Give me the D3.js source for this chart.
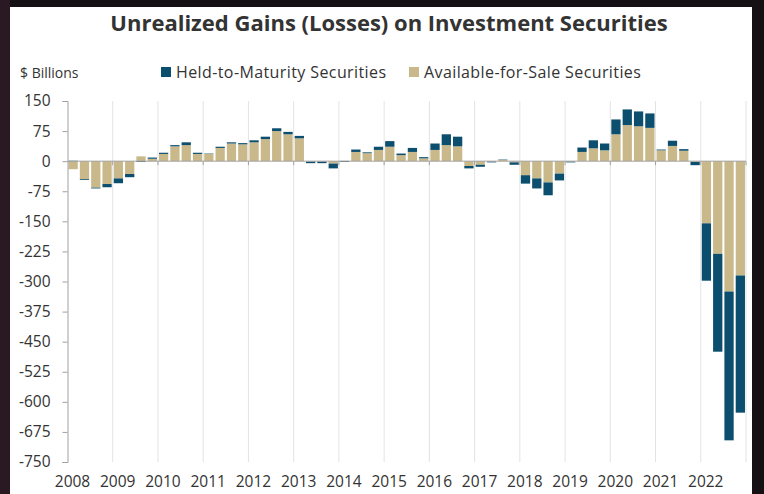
<!DOCTYPE html>
<html>
<head>
<meta charset="utf-8">
<script src="https://cdn.jsdelivr.net/npm/d3@7"></script>
<style>
  html, body { margin: 0; padding: 0; background: #141014; }
  svg { display: block; }
  text { font-family: "Open Sans", Lato, sans-serif; fill: #333; }
</style>
</head>
<body>
<svg id="chart" width="764" height="494"></svg>
<script>
// quarterly unrealized gains (losses), $ billions, 2008Q1..2022Q4
const years = d3.range(2008, 2023);
const quarters = years.flatMap(y => [1, 2, 3, 4].map(q => y + 'Q' + q));

const afsValues = [
  -20, -45, -66, -57,
  -43, -32, 12, 6,
  18, 37, 40, 18,
  18, 33, 44, 42,
  47, 55, 75, 67,
  57, -1, -1, -6,
  1, 23, 20, 28,
  36, 15, 23, 7,
  28, 40, 37, -12,
  -9, -1, 3, -3,
  -35, -43, -53, -31,
  -1, 23, 32, 27,
  67, 90, 87, 83,
  27, 38, 26, -2,
  -155, -231, -325, -285
];
const htmValues = [
  1, -2, -2, -8,
  -12, -8, -2, 3,
  3, 3, 7, 3,
  1, 3, 3, 3,
  5, 6, 7, 6,
  6, -4, -4, -12,
  -2, 6, 2, 8,
  14, 4, 10, 3,
  16, 27, 24, -6,
  -5, -2, 1, -6,
  -21, -25, -32, -17,
  -2, 11, 20, 17,
  37, 39, 37, 36,
  2, 13, 4, -8,
  -143, -244, -371, -342
];
const yTicks = [150, 75, 0, -75, -150, -225, -300, -375, -450, -525, -600, -675, -750];
const seriesNames = ['Held-to-Maturity Securities', 'Available-for-Sale Securities'];
const colors = { htm: '#0c4e6e', afs: '#c9b98a' };

(function(){
  const svg = d3.select('#chart');
  const W = 764, H = 494;

  // frame + white panel
  svg.append('rect').attr('width', W).attr('height', H).attr('fill', '#141014');
  svg.append('rect').attr('x', 0).attr('y', 0).attr('width', 10).attr('height', H).attr('fill', '#2a1822');
  svg.append('rect').attr('x', 10).attr('y', 7).attr('width', 742).attr('height', H - 7).attr('fill', '#fff');

  const left = 67.5, right = 746, top = 101, bottom = 462;

  const y = d3.scaleLinear().domain([-750, 150]).range([bottom, top]);
  const x = d3.scaleBand().domain(quarters).range([left, right]).paddingInner(0.18).paddingOuter(0.09);
  const xYear = d3.scaleLinear().domain([2008, 2023]).range([left, right]);

  // vertical gridlines at year boundaries
  svg.append('g').selectAll('line').data(d3.range(2009, 2024)).join('line')
    .attr('x1', d => xYear(d)).attr('x2', d => xYear(d))
    .attr('y1', top).attr('y2', bottom)
    .attr('stroke', '#e3e3e3').attr('stroke-width', 1);

  // stacked bars
  const table = quarters.map((q, i) => ({ q, afs: afsValues[i], htm: htmValues[i] }));
  const stack = d3.stack().keys(['afs', 'htm']).offset(d3.stackOffsetDiverging);
  const layers = stack(table);

  svg.append('g').selectAll('g').data(layers).join('g')
    .attr('fill', d => colors[d.key])
    .selectAll('rect').data(d => d).join('rect')
      .attr('x', d => x(d.data.q))
      .attr('width', x.bandwidth())
      .attr('y', d => y(Math.max(d[0], d[1])))
      .attr('height', d => Math.abs(y(d[0]) - y(d[1])));

  // zero line with small year ticks
  svg.append('line').attr('x1', left).attr('x2', right).attr('y1', y(0)).attr('y2', y(0))
    .attr('stroke', '#a0a0a0').attr('stroke-width', 1);
  svg.append('g').selectAll('line').data(d3.range(2009, 2024)).join('line')
    .attr('x1', d => xYear(d)).attr('x2', d => xYear(d))
    .attr('y1', y(0)).attr('y2', y(0) + 4)
    .attr('stroke', '#a0a0a0');

  // y axis
  const yAxis = d3.axisLeft(y).tickValues(yTicks).tickSize(5).tickPadding(12).tickFormat(d3.format('d'));
  const gy = svg.append('g').attr('transform', `translate(${left},0)`).call(yAxis);
  gy.select('.domain').attr('stroke', '#a0a0a0');
  gy.selectAll('.tick line').attr('stroke', '#a0a0a0');
  gy.selectAll('.tick text').attr('font-size', 15.5).attr('fill', '#333')
    .style('font-family', '"Open Sans", sans-serif').text(d => d < 0 ? '-' + Math.abs(d) : d);

  // year labels
  svg.append('g').selectAll('text').data(years).join('text')
    .attr('x', d => xYear(d) + 5).attr('y', 487)
    .attr('text-anchor', 'middle').attr('font-size', 15.5)
    .text(d => d);

  // title
  svg.append('text').attr('x', 389).attr('y', 31).attr('text-anchor', 'middle')
    .attr('font-size', 22).attr('font-weight', 700).attr('fill', '#222')
    .text('Unrealized Gains (Losses) on Investment Securities');

  // units label
  svg.append('text').attr('x', 20).attr('y', 78).attr('font-size', 14).text('$ Billions');

  // legend
  const legend = [
    { name: seriesNames[0], color: colors.htm, x: 161 },
    { name: seriesNames[1], color: colors.afs, x: 409 }
  ];
  const lg = svg.append('g').selectAll('g').data(legend).join('g')
    .attr('transform', d => `translate(${d.x},0)`);
  lg.append('rect').attr('x', 0).attr('y', 67).attr('width', 10).attr('height', 10).attr('fill', d => d.color);
  lg.append('text').attr('x', 15).attr('y', 78).attr('font-size', 16)
    .attr('letter-spacing', 0.4).text(d => d.name);
})();
</script>
</body>
</html>
